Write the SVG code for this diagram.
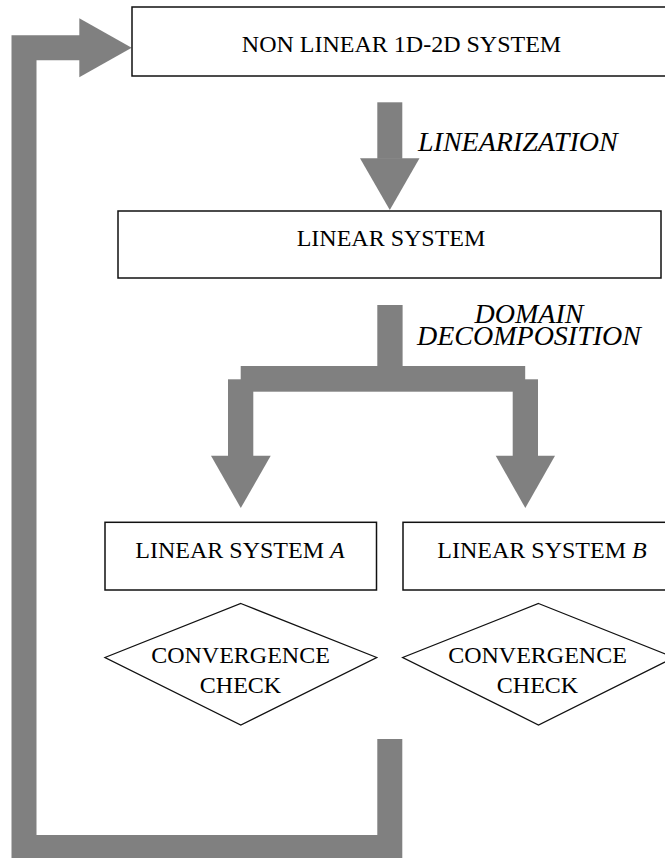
<svg xmlns="http://www.w3.org/2000/svg" width="665" height="858" viewBox="0 0 665 858">
<style>
.box{fill:#fff;stroke:#111;stroke-width:1.5}
.dia{fill:#fff;stroke:#111;stroke-width:1.3}
.t{font-family:"Liberation Serif","Times New Roman",serif;font-size:24px;fill:#000;text-anchor:middle}
.lbl{font-family:"Liberation Serif","Times New Roman",serif;font-size:28px;font-style:italic;fill:#000}
.g{fill:#808080}
.gl{fill:none;stroke:#808080;stroke-width:25;stroke-linejoin:miter}
</style>
<rect width="665" height="858" fill="#fff"/>
<g id="connectors">
  <polyline class="gl" points="389.8,739 389.8,847.5 24,847.5 24,47.8 80,47.8"/>
  <polygon class="g" points="79.3,18.3 131.7,47.8 79.3,77.3"/>
  <rect class="g" x="377.3" y="102.3" width="25" height="56.5"/>
  <polygon class="g" points="360,158.3 419.5,158.3 389.8,210"/>
  <rect class="g" x="377.3" y="305" width="25.3" height="62"/>
  <rect class="g" x="240.7" y="366" width="284.5" height="25.7"/>
  <rect class="g" x="228" y="379.3" width="25.3" height="77"/>
  <rect class="g" x="512.7" y="379.3" width="25.3" height="77"/>
  <polygon class="g" points="211,455.7 270.7,455.7 240.8,508"/>
  <polygon class="g" points="495.7,455.7 555,455.7 525.3,508"/>
  <text class="lbl" x="418" y="150.5">LINEARIZATION</text>
  <text class="lbl" x="529" y="323.3" text-anchor="middle">DOMAIN</text>
  <text class="lbl" x="529" y="345" text-anchor="middle">DECOMPOSITION</text>
</g>
<g id="nonlinear">
  <rect class="box" x="132" y="7" width="545" height="69"/>
  <text class="t" x="401.5" y="52">NON LINEAR 1D-2D SYSTEM</text>
</g>
<g id="linear">
  <rect class="box" x="118" y="211" width="543" height="67"/>
  <text class="t" x="391" y="246">LINEAR SYSTEM</text>
</g>
<g id="linearA">
  <rect class="box" x="105" y="522.3" width="271.5" height="67.7"/>
  <text class="t" x="240" y="558.3">LINEAR SYSTEM <tspan font-style="italic">A</tspan></text>
</g>
<g id="linearB">
  <rect class="box" x="403" y="522.3" width="280" height="67.7"/>
  <text class="t" x="542" y="558.3">LINEAR SYSTEM <tspan font-style="italic">B</tspan></text>
</g>
<g id="checkA">
  <polygon class="dia" points="240.8,603.5 376.7,657.5 240.8,725 105,657.5"/>
  <text class="t" x="240.5" y="663.3">CONVERGENCE</text>
  <text class="t" x="240.5" y="693.3">CHECK</text>
</g>
<g id="checkB">
  <polygon class="dia" points="538.5,603.5 674,657.5 538.5,725 402.7,657.5"/>
  <text class="t" x="537.5" y="663.3">CONVERGENCE</text>
  <text class="t" x="537.5" y="693.3">CHECK</text>
</g>
</svg>
